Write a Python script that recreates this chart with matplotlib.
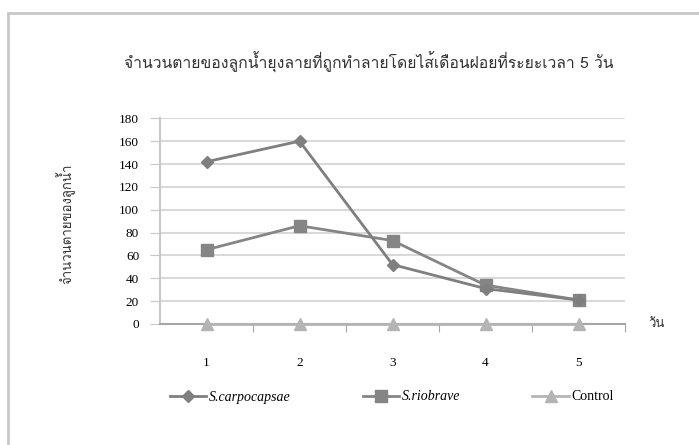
import matplotlib
matplotlib.use("Agg")
import matplotlib.pyplot as plt
from matplotlib import font_manager
from matplotlib.patches import Rectangle
from fontTools.ttLib import TTFont

days = [1, 2, 3, 4, 5]
s_carpocapsae = [142, 160, 52, 31, 21]
s_riobrave = [65, 86, 73, 34, 21]
control = [0, 0, 0, 0, 0]
y_ticks = list(range(0, 181, 20))

title = "จำนวนตายของลูกน้ำยุงลายที่ถูกทำลายโดยไส้เดือนฝอยที่ระยะเวลา 5 วัน"
ylabel = "จำนวนตายของลูกน้ำ"
xunit = "วัน"


def find_thai_font():
    # first installed family that has Thai glyphs
    for f in font_manager.fontManager.ttflist:
        try:
            cmap = TTFont(f.fname, fontNumber=0, lazy=True).getBestCmap()
        except Exception:
            continue
        if cmap and 0x0E08 in cmap and 0x0E19 in cmap:
            return f.name
    return "DejaVu Sans"


thai = [find_thai_font(), "DejaVu Sans"]
serif = "Liberation Serif"

fig = plt.figure(figsize=(6.99, 4.45), dpi=100)
ax = fig.add_axes([160 / 699, 1 - 324 / 445, 465 / 699, (324 - 118.3) / 445])

x = list(range(len(days)))
ax.plot(x, s_carpocapsae, color="#7f7f7f", lw=2, marker="D", ms=6,
        label="S.carpocapsae", zorder=4)
ax.plot(x, s_riobrave, color="#858585", lw=2, marker="s", ms=8,
        label="S.riobrave", zorder=3)
ax.plot(x, control, color="#b4b4b4", lw=2, marker="^", ms=8,
        label="Control", zorder=5, clip_on=False)

ax.set_xlim(-0.5, len(days) - 0.5)
ax.set_ylim(0, 180)
ax.set_yticks(y_ticks)
ax.set_yticklabels([str(v) for v in y_ticks], fontfamily=serif, fontsize=9.5)
ax.yaxis.grid(True, color="#d9d9d9", lw=1.5)
ax.set_axisbelow(True)

# category labels sit between boundary ticks
ax.set_xticks([i + 0.5 for i in x])
ax.set_xticklabels([])
ax.set_xticks(x, minor=True)
ax.set_xticklabels([str(d) for d in days], minor=True, fontfamily=serif,
                   fontsize=9.5)
ax.tick_params(axis="x", which="major", length=6, color="#a6a6a6")
ax.tick_params(axis="x", which="minor", length=0, pad=24)
ax.tick_params(axis="y", length=7, color="#c8c8c8", pad=8)

for side in ["top", "right"]:
    ax.spines[side].set_visible(False)
ax.spines["left"].set_color("#c8c8c8")
ax.spines["left"].set_linewidth(1.5)
ax.spines["bottom"].set_color("#a6a6a6")
ax.spines["bottom"].set_linewidth(1.5)

fig.text(369 / 699, 1 - 62 / 445, title, family=thai, fontsize=11.3,
         ha="center", va="center", color="#333333")
fig.text(66 / 699, 1 - 224 / 445, ylabel, family=thai, fontsize=9.5,
         rotation=90, ha="center", va="center", color="#333333")
fig.text(657 / 699, 1 - 324 / 445, xunit, family=thai, fontsize=9.5,
         ha="center", va="center", color="#333333")

leg = ax.legend(loc="center", bbox_to_anchor=(392 / 699, 1 - 397 / 445),
                bbox_transform=fig.transFigure, ncol=3, frameon=False,
                prop={"family": serif, "size": 10}, handlelength=2.6,
                columnspacing=5.2, handletextpad=0.2)
for t in leg.get_texts()[:2]:
    t.set_style("italic")

fig.patches.append(Rectangle((8 / 699, -0.1), 1.2, 1.1 - 13 / 445,
                             transform=fig.transFigure, fill=False,
                             ec="#c8c8c8", lw=2))

fig.savefig("out.png", dpi=100, facecolor="white")
